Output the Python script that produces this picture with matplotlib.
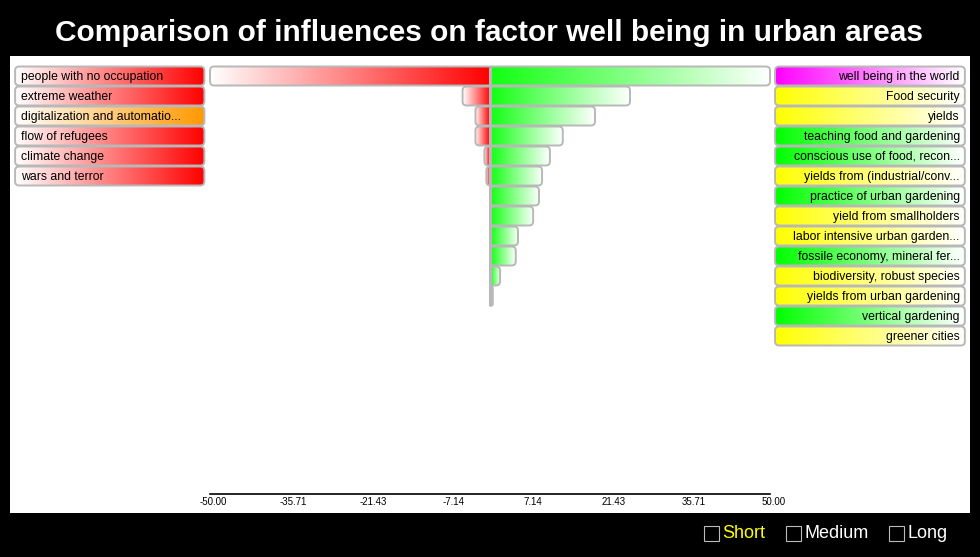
import numpy as np
import matplotlib
matplotlib.use("Agg")
import matplotlib.pyplot as plt
from matplotlib.patches import FancyBboxPatch, Rectangle
from matplotlib.colors import LinearSegmentedColormap

plt.rcParams['font.family'] = ['Liberation Sans', 'DejaVu Sans']

# data
left_labels = ["people with no occupation", "extreme weather", "digitalization and automatio...",
               "flow of refugees", "climate change", "wars and terror"]
left_colors = ["#ff0000", "#ff0000", "#ff9900", "#ff0000", "#ff0000", "#ff0000"]

right_labels = ["well being in the world", "Food security", "yields", "teaching food and gardening",
                "conscious use of food, recon...", "yields from (industrial/conv...",
                "practice of urban gardening", "yield from smallholders",
                "labor intensive urban garden...", "fossile economy, mineral fer...",
                "biodiversity, robust species", "yields from urban gardening",
                "vertical gardening", "greener cities"]
right_colors = ["#ff00ff", "#ffff00", "#ffff00", "#00ff00", "#00ff00", "#ffff00", "#00ff00",
                "#ffff00", "#ffff00", "#00ff00", "#ffff00", "#ffff00", "#00ff00", "#ffff00"]

neg_vals = [-50.0, -4.9, -2.6, -2.6, -1.0, -0.65, 0, 0, 0, 0, 0, 0]
pos_vals = [50.0, 25.0, 18.75, 13.0, 10.7, 9.3, 8.75, 7.7, 5.0, 4.6, 1.8, 0.5]

ticks = [-50.0, -35.71, -21.43, -7.14, 7.14, 21.43, 35.71, 50.0]

W, H = 980, 557
fig = plt.figure(figsize=(W / 100, H / 100), dpi=100, facecolor="black")
ax = fig.add_axes([10 / W, (H - 513) / H, 960 / W, (513 - 56) / H])
ax.set_facecolor("white")
ax.axis("off")
ax.add_patch(Rectangle((0, 0), 1, 1, transform=ax.transAxes, fc="white", ec="none", zorder=0))

RX = 0.75          # corner radius in x units (~4px)
ASP = 0.2 / 0.75   # so radius in y is ~4px too
EDGE = "#b8b8b8"
grad = np.linspace(0, 1, 256).reshape(1, -1)


def rbox(x0, x1, y, h=0.95):
    r = min(RX, (x1 - x0) / 2)
    p = FancyBboxPatch((x0, y - h / 2), x1 - x0, h,
                       boxstyle="round,pad=0,rounding_size=%f" % r,
                       mutation_aspect=ASP, fc="none", ec=EDGE, lw=1.4, zorder=4)
    ax.add_patch(p)
    return p


def fill(patch, x0, x1, y, c0, c1, h=0.95):
    cm = LinearSegmentedColormap.from_list("g", [c0, c1])
    im = ax.imshow(grad, cmap=cm, extent=(x0, x1, y + h / 2, y - h / 2),
                   aspect="auto", interpolation="bilinear", zorder=2)
    im.set_clip_path(patch)


# bars
for i, (n, p) in enumerate(zip(neg_vals, pos_vals)):
    box = rbox(n, p, i)
    if n < 0:
        fill(box, n, 0, i, "white", "#ff0000")
    if p > 0:
        fill(box, 0, p, i, "#11ff11", "white")
ax.plot([0, 0], [-0.475, len(pos_vals) - 0.525], color=EDGE, lw=2.2, zorder=5,
        solid_capstyle="butt")

# left labels
for i, (t, c) in enumerate(zip(left_labels, left_colors)):
    x0, x1 = -84.8, -51.0
    b = rbox(x0, x1, i)
    fill(b, x0, x1, i, "white", c)
    ax.text(x0 + 1.0, i + 0.03, t, ha="left", va="center", fontsize=8.8, color="black", zorder=6)

# right labels
for i, (t, c) in enumerate(zip(right_labels, right_colors)):
    x0, x1 = 50.9, 84.8
    b = rbox(x0, x1, i)
    fill(b, x0, x1, i, c, "white")
    ax.text(x1 - 0.9, i + 0.03, t, ha="right", va="center", fontsize=8.8, color="black", zorder=6)

# bottom axis
ax.plot([ticks[0], ticks[-1]], [20.9, 20.9], color="black", lw=1.2, zorder=3)
for t in ticks:
    ax.text(t + 0.6, 21.3, "%.2f" % t, ha="center", va="center", fontsize=7, color="black")

ax.set_xlim(-85.714, 85.714)
ax.set_ylim(21.85, -1.0)

fig.text(489 / W, 1 - 33 / H, "Comparison of influences on factor well being in urban areas",
         ha="center", va="center", color="white", fontsize=21.5, fontweight="bold")

# legend at the bottom
for bx, tx, name, col in [(704, 722, "Short", "#ffff00"), (786, 804, "Medium", "white"),
                          (889, 907, "Long", "white")]:
    fig.patches.append(Rectangle((bx / W, 1 - 541 / H), 15 / W, 15 / H, transform=fig.transFigure,
                                 fc="none", ec="#bbbbbb", lw=0.8))
    fig.text(tx / W, 1 - 534 / H, name, ha="left", va="center", color=col, fontsize=13)

fig.savefig("out.png", dpi=100, facecolor="black")
